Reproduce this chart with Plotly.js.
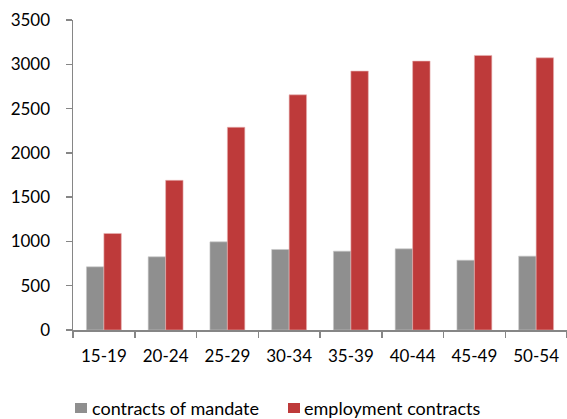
<!DOCTYPE html>
<html>
<head>
<meta charset="utf-8">
<script src="https://cdn.plot.ly/plotly-3.0.1.min.js"></script>
<style>
  html, body { margin: 0; padding: 0; background: #ffffff; }
  #chart { width: 567px; height: 419px; }
</style>
</head>
<body>
<div id="chart"></div>
<script>
// Age groups on the category axis
const ageGroups = ["15-19", "20-24", "25-29", "30-34", "35-39", "40-44", "45-49", "50-54"];

// Number of contracts per age group
const contractsOfMandate = [713, 826, 995, 909, 890, 916, 788, 834];
const employmentContracts = [1090, 1690, 2289, 2655, 2923, 3036, 3100, 3073];

// Value-axis ticks
const yTicks = [0, 500, 1000, 1500, 2000, 2500, 3000, 3500];

// Series names and colours
const seriesNames = ["contracts of mandate", "employment contracts"];
const seriesColors = ["#8f8f8f", "#be3a3a"];
const seriesEdges = ["#c8c8c8", "#e8b4b4"];

const FONT = "Lato, 'Open Sans', sans-serif";
const W = 567, H = 419;
const M = { l: 73, r: 0, t: 20, b: 89 };
const plotW = W - M.l - M.r, plotH = H - M.t - M.b;

// pixel -> paper-coordinate helpers for the legend row under the axis
const px = (x) => (x - M.l) / plotW;
const py = (y) => (H - M.b - y) / plotH;

const traces = [contractsOfMandate, employmentContracts].map((vals, i) => ({
  type: "bar",
  name: seriesNames[i],
  x: ageGroups,
  y: vals,
  marker: { color: seriesColors[i], line: { color: seriesEdges[i], width: 0.6 } },
  hoverinfo: "x+y+name"
}));

// Legend row: a swatch and a label per series
const legendRow = [
  { swatchX: 75, textX: 91 },
  { swatchX: 288, textX: 303 }
];
const legendY = 408;

const shapes = legendRow.map((p, i) => ({
  type: "rect",
  xref: "paper", yref: "paper",
  x0: px(p.swatchX), x1: px(p.swatchX + 12),
  y0: py(legendY - 5), y1: py(legendY + 5),
  fillcolor: seriesColors[i],
  line: { width: 0 },
  layer: "above"
}));

const annotations = legendRow.map((p, i) => ({
  xref: "paper", yref: "paper",
  x: px(p.textX), y: py(legendY),
  xanchor: "left", yanchor: "middle",
  text: seriesNames[i],
  showarrow: false,
  borderpad: 0,
  font: { family: FONT, size: 18, color: "#000000" }
}));

const layout = {
  width: W,
  height: H,
  margin: M,
  paper_bgcolor: "#ffffff",
  plot_bgcolor: "#ffffff",
  barmode: "group",
  bargap: 0.435,
  bargroupgap: 0,
  font: { family: FONT, size: 17, color: "#000000" },
  showlegend: false,
  shapes: shapes,
  annotations: annotations,
  xaxis: {
    type: "category",
    showgrid: false,
    zeroline: false,
    showline: true,
    linecolor: "#868686",
    linewidth: 1.5,
    ticks: "outside",
    tickson: "boundaries",
    ticklen: 6,
    tickcolor: "#868686",
    tickwidth: 1.5,
    ticklabelstandoff: 10,
    tickfont: { family: FONT, size: 17, color: "#000000" },
    automargin: false,
    fixedrange: true
  },
  yaxis: {
    range: [0, 3500],
    tickmode: "array",
    tickvals: yTicks,
    ticktext: yTicks.map(String),
    showgrid: false,
    zeroline: false,
    showline: true,
    linecolor: "#868686",
    linewidth: 1.5,
    ticks: "outside",
    ticklen: 6,
    tickcolor: "#868686",
    tickwidth: 1.5,
    ticklabelstandoff: 12,
    tickfont: { family: FONT, size: 17, color: "#000000" },
    automargin: false,
    fixedrange: true
  }
};

Plotly.newPlot("chart", traces, layout, { displayModeBar: false, staticPlot: true });
</script>
</body>
</html>
